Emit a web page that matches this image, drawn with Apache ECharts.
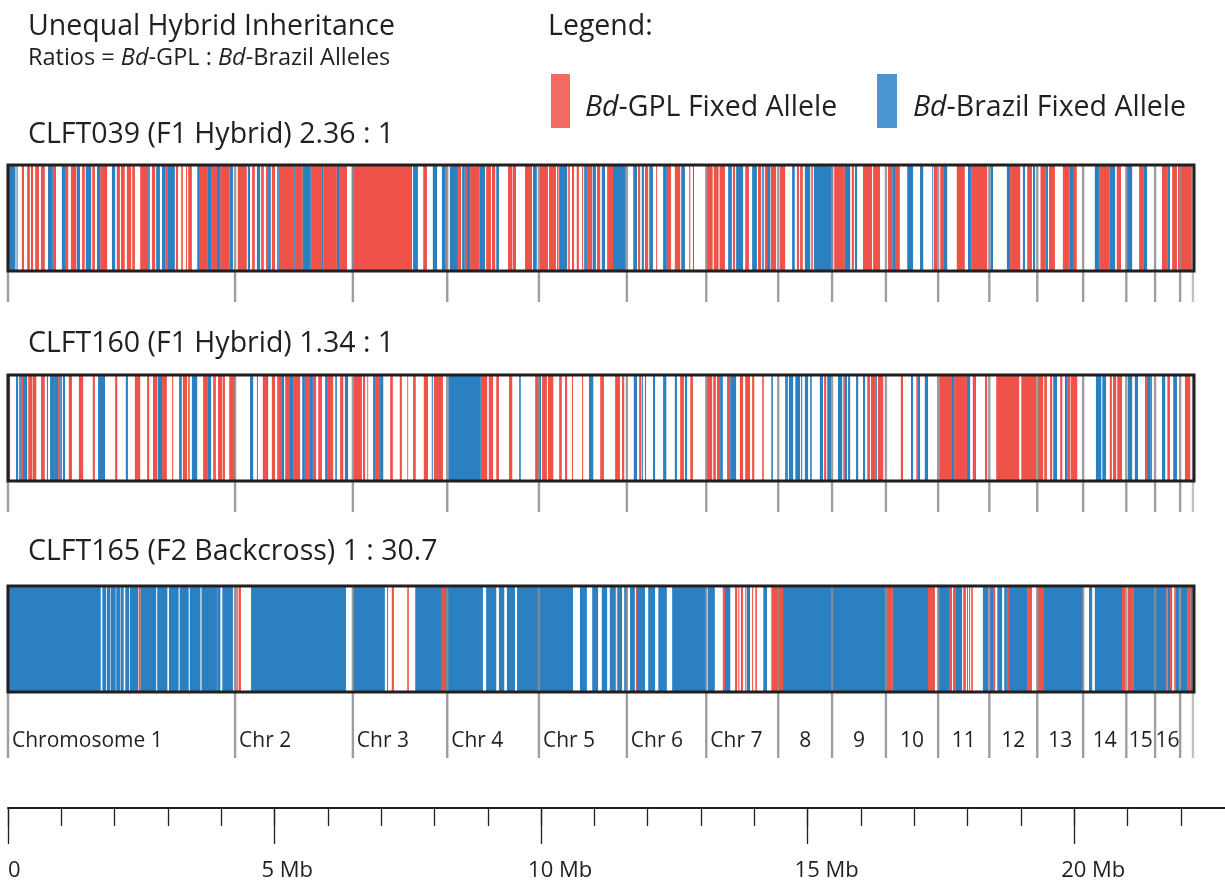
<!DOCTYPE html>
<html>
<head>
<meta charset="utf-8">
<script src="https://cdn.jsdelivr.net/npm/echarts@6/dist/echarts.min.js"></script>
<style>
  html, body { margin: 0; padding: 0; background: #fff; }
  #chart { width: 1225px; height: 886px; }
</style>
</head>
<body>
<div id="chart"></div>
<script>
// Genome length covered by each sample bar, and the reach of the scale bar (Mb)
const GENOME_MB = 22.25;
const SCALE_MB = 22.83;

// Chromosome start positions (Mb); last value is the assembly end
const chrStarts = [0, 4.26, 6.47, 8.24, 9.96, 11.61, 13.10, 14.45, 15.46, 16.47, 17.45, 18.41, 19.31, 20.17, 20.98, 21.52, 21.99, 22.23];
const chrLabels = ['Chromosome 1', 'Chr 2', 'Chr 3', 'Chr 4', 'Chr 5', 'Chr 6', 'Chr 7', '8', '9', '10', '11', '12', '13', '14', '15', '16', ''];

const sampleIds = ['CLFT039', 'CLFT160', 'CLFT165'];
const crossTypes = ['F1 Hybrid', 'F1 Hybrid', 'F2 Backcross'];
const alleleRatios = ['2.36 : 1', '1.34 : 1', '1 : 30.7'];

// scale bar ticks (Mb)
const scaleMajorTicks = [0, 5, 10, 15, 20];
const scaleMinorTicks = [0, 1, 2, 3, 4, 5, 6, 7, 8, 9, 10, 11, 12, 13, 14, 15, 16, 17, 18, 19, 20, 21, 22];

// Fixed-allele blocks, [start Mb, end Mb]
const gpl039 = [[0.26,0.30],[0.36,0.41],[0.43,0.47],[0.51,0.58],[0.62,0.69],[0.84,0.90],[1.07,1.13],[1.18,1.28],[1.39,1.44],[1.58,1.63],[1.73,1.86],[2.04,2.10],[2.12,2.19],[2.23,2.31],[2.33,2.38],[2.48,2.63],[2.70,2.76],[2.95,3.00],[3.15,3.19],[3.25,3.28],[3.34,3.36],[3.38,3.45],[3.60,3.75],[3.81,3.92],[3.98,4.16],[4.31,4.48],[4.58,4.63],[4.75,4.80],[4.84,4.88],[4.95,5.01],[5.08,5.35],[5.38,5.53],[5.68,5.89],[5.92,6.17],[6.21,6.36],[6.49,7.58],[7.79,7.86],[8.20,8.24],[8.44,8.50],[8.57,8.61],[8.67,8.85],[8.97,9.06],[9.08,9.14],[9.38,9.46],[9.47,9.53],[9.70,9.83],[9.98,10.13],[10.15,10.28],[10.30,10.33],[10.51,10.54],[10.58,10.62],[10.67,10.71],[10.77,10.79],[10.86,10.96],[11.05,11.11],[11.24,11.35],[11.82,11.86],[11.95,12.01],[12.16,12.18],[12.36,12.44],[12.51,12.61],[12.78,12.80],[13.11,13.22],[13.24,13.33],[13.35,13.45],[13.60,13.64],[13.83,13.90],[14.07,14.13],[14.20,14.24],[14.31,14.41],[14.48,14.58],[14.80,14.84],[14.86,14.91],[15.07,15.10],[15.50,15.70],[15.83,15.87],[16.04,16.21],[16.23,16.36],[16.51,16.59],[16.64,16.73],[17.37,17.43],[17.49,17.56],[17.80,17.95],[18.07,18.37],[18.80,18.99],[19.12,19.21],[19.37,19.46],[19.53,19.64],[19.79,19.92],[19.98,20.05],[20.48,20.67],[20.80,20.88],[21.22,21.31],[21.65,21.76],[21.84,21.93],[21.95,22.21]];
const brazil039 = [[0.01,0.14],[0.16,0.18],[0.75,0.84],[1.01,1.07],[1.29,1.35],[1.46,1.56],[1.67,1.73],[1.95,2.01],[2.63,2.66],[2.78,2.85],[2.89,2.95],[3.00,3.13],[3.55,3.60],[3.75,3.81],[3.92,3.98],[4.16,4.22],[4.50,4.54],[4.67,4.73],[4.88,4.93],[5.05,5.08],[5.35,5.38],[5.53,5.68],[5.89,5.92],[6.17,6.21],[6.45,6.49],[7.60,7.69],[7.97,8.05],[8.14,8.20],[8.29,8.44],[8.52,8.57],[8.61,8.67],[8.85,8.95],[9.16,9.21],[9.85,9.92],[10.34,10.49],[10.81,10.86],[10.97,11.03],[11.14,11.20],[11.35,11.59],[11.73,11.80],[11.89,11.93],[12.03,12.10],[12.29,12.36],[12.63,12.70],[12.85,12.87],[13.51,13.58],[13.66,13.79],[13.96,14.05],[14.15,14.18],[14.24,14.30],[14.71,14.76],[14.95,15.05],[15.12,15.48],[15.70,15.80],[15.89,15.93],[16.59,16.64],[16.87,16.98],[17.11,17.17],[17.34,17.35],[17.56,17.62],[18.01,18.07],[18.43,18.48],[18.74,18.80],[19.04,19.08],[19.23,19.27],[19.46,19.51],[19.92,19.98],[20.39,20.48],[20.67,20.77],[20.99,21.09],[21.31,21.37],[21.76,21.80]];

const gpl160 = [[0.00,0.04],[0.24,0.28],[0.38,0.45],[0.46,0.53],[0.62,0.69],[0.94,0.98],[1.14,1.20],[1.33,1.41],[1.59,1.63],[2.01,2.05],[2.38,2.48],[2.61,2.65],[2.72,2.80],[2.89,2.98],[3.08,3.10],[3.28,3.36],[3.38,3.41],[3.66,3.75],[3.85,3.90],[3.94,4.02],[4.03,4.07],[4.15,4.26],[4.67,4.69],[4.78,4.86],[4.95,5.01],[5.05,5.14],[5.20,5.29],[5.35,5.48],[5.57,5.65],[5.72,5.78],[5.82,5.89],[6.00,6.10],[6.23,6.29],[6.49,6.64],[6.66,6.70],[6.74,6.75],[6.90,6.98],[7.17,7.22],[7.35,7.39],[7.49,7.50],[7.60,7.65],[7.80,7.88],[7.99,8.16],[8.87,8.99],[9.02,9.10],[9.16,9.21],[9.40,9.46],[9.89,9.96],[10.02,10.11],[10.13,10.23],[10.34,10.39],[10.45,10.49],[10.58,10.60],[10.77,10.79],[11.11,11.18],[11.39,11.48],[11.52,11.56],[11.84,11.88],[12.61,12.68],[12.80,12.85],[13.11,13.21],[13.23,13.28],[13.30,13.36],[13.49,13.55],[13.73,13.79],[13.83,13.92],[13.96,14.00],[14.15,14.18],[15.31,15.35],[15.67,15.70],[16.12,16.17],[16.19,16.27],[16.32,16.42],[16.75,16.79],[17.04,17.07],[17.47,17.71],[17.75,17.99],[18.10,18.16],[18.33,18.37],[18.54,18.97],[19.01,19.29],[19.32,19.42],[19.44,19.49],[19.55,19.59],[19.74,19.78],[19.87,19.93],[19.94,20.06],[20.67,20.71],[20.73,20.79],[20.81,20.90],[21.33,21.37],[21.75,21.80],[22.08,22.18]];
const brazil160 = [[0.15,0.19],[0.21,0.24],[0.28,0.36],[0.73,0.75],[0.79,0.88],[0.88,0.94],[0.98,1.01],[1.03,1.07],[1.69,1.82],[2.21,2.25],[2.81,2.89],[3.21,3.26],[3.45,3.55],[3.75,3.81],[4.54,4.60],[4.86,4.88],[5.14,5.18],[5.29,5.35],[5.52,5.57],[5.65,5.72],[5.95,6.00],[6.14,6.17],[6.32,6.38],[6.85,6.90],[6.98,7.04],[7.95,7.97],[8.26,8.87],[9.59,9.62],[9.96,10.00],[10.90,10.98],[11.74,11.80],[11.89,11.91],[11.95,11.97],[12.10,12.14],[12.29,12.35],[12.51,12.55],[12.70,12.74],[13.36,13.41],[13.55,13.66],[14.32,14.35],[14.58,14.63],[14.65,14.73],[14.77,14.86],[14.88,14.90],[14.95,15.01],[15.05,15.08],[15.23,15.29],[15.37,15.44],[15.57,15.65],[15.70,15.74],[15.76,15.80],[15.91,15.95],[16.04,16.08],[16.27,16.30],[16.94,16.98],[17.07,17.11],[17.20,17.26],[17.71,17.75],[17.99,18.05],[19.61,19.68],[19.83,19.87],[20.41,20.51],[20.53,20.60],[21.01,21.09],[21.14,21.20],[21.37,21.43],[21.43,21.46],[21.65,21.71],[21.86,21.93]];

const gpl165 = [[2.45,2.49],[3.92,3.94],[4.26,4.29],[4.30,4.32],[4.33,4.37],[7.11,7.13],[7.20,7.24],[7.49,7.52],[8.14,8.20],[11.39,11.41],[11.78,11.80],[13.41,13.45],[13.64,13.68],[13.70,13.72],[13.75,13.79],[13.83,13.85],[13.96,13.98],[14.02,14.05],[14.32,14.54],[16.49,16.60],[17.26,17.39],[17.67,17.71],[17.73,17.77],[17.92,17.97],[17.99,18.01],[18.03,18.05],[18.07,18.10],[18.48,18.52],[18.74,18.78],[19.12,19.21],[19.31,19.42],[20.90,20.96],[21.01,21.11],[21.73,21.75],[21.80,21.84],[21.88,21.91],[22.12,22.19]];
const brazil165 = [[0.00,1.74],[1.77,1.84],[1.855,1.92],[1.93,2.02],[2.03,2.11],[2.12,2.17],[2.20,2.27],[2.285,2.44],[2.49,2.78],[2.80,2.99],[3.02,3.20],[3.22,3.39],[3.41,3.61],[3.63,3.92],[3.94,3.985],[4.02,4.22],[4.56,6.34],[6.47,7.07],[7.64,8.14],[8.20,8.91],[8.97,9.16],[9.21,9.31],[9.36,9.51],[9.55,10.60],[10.73,10.86],[10.96,11.07],[11.14,11.24],[11.29,11.39],[11.43,11.52],[11.56,11.61],[11.67,11.76],[11.80,11.95],[12.01,12.14],[12.20,12.36],[12.46,13.10],[13.13,13.26],[13.45,13.55],[13.86,13.92],[14.17,14.24],[14.54,16.49],[16.60,17.26],[17.45,17.67],[17.77,17.90],[18.29,18.39],[18.42,18.48],[18.56,18.65],[18.69,18.74],[18.78,19.12],[19.42,20.17],[20.28,20.34],[20.39,20.90],[21.11,21.73],[21.75,21.80],[21.91,21.97],[21.99,22.12],[22.19,22.23]];

const gplBySample = [gpl039, gpl160, gpl165];
const brazilBySample = [brazil039, brazil160, brazil165];

const FONT = "'Open Sans', 'Noto Sans', sans-serif";
const INK = '#231f20';
const GPL_RED = '#ef5249';
const BRAZIL_BLUE = '#2a80c1';
const GPL_RED_KEY = '#f26c65';
const BRAZIL_BLUE_KEY = '#4a96d0';
const CHR_GRAY = 'rgba(140,141,144,0.85)';

const barTops = [165, 375, 586];
const barHeight = 106;
const tickDrops = [31, 31, 66];

const chart = echarts.init(document.getElementById('chart'), null, { renderer: 'canvas' });

const grids = barTops.map(t => ({ left: 8, top: t, width: 1186, height: barHeight }));
grids.push({ left: 8, top: 807, right: 0, height: 1 });

const xAxes = barTops.map((t, i) => ({ type: 'value', gridIndex: i, min: 0, max: GENOME_MB, show: false }));
const yAxes = barTops.map((t, i) => ({ type: 'value', gridIndex: i, min: 0, max: 1, show: false }));

// scale bar: two axes sharing one grid, 1 Mb minor ticks and 5 Mb major ticks
xAxes.push({
  type: 'value', gridIndex: 3, min: 0, max: SCALE_MB, interval: 1, position: 'bottom',
  axisLine: { show: true, lineStyle: { color: INK, width: 2 } },
  axisTick: { show: true, length: 18, customValues: scaleMinorTicks, lineStyle: { color: INK, width: 1.3 } },
  axisLabel: { show: false }, splitLine: { show: false }
});
xAxes.push({
  type: 'value', gridIndex: 3, min: 0, max: SCALE_MB, interval: 5, position: 'bottom',
  axisLine: { show: false },
  axisTick: { show: true, length: 36, customValues: scaleMajorTicks, lineStyle: { color: INK, width: 1.3 } },
  axisLabel: { show: false }, splitLine: { show: false }
});
yAxes.push({ type: 'value', gridIndex: 3, min: 0, max: 1, show: false });

function blockSeries(i, blocks, color, name) {
  return {
    type: 'custom', name: name, xAxisIndex: i, yAxisIndex: i, silent: true, z: 2,
    data: blocks,
    renderItem: function (params, api) {
      const a = api.coord([api.value(0), 1]);
      const b = api.coord([api.value(1), 0]);
      return {
        type: 'rect',
        shape: { x: a[0], y: a[1], width: Math.max(b[0] - a[0], 0.9), height: b[1] - a[1] },
        style: { fill: color }
      };
    }
  };
}

function chromosomeSeries(i) {
  return {
    type: 'custom', xAxisIndex: i, yAxisIndex: i, silent: true, z: 3,
    data: chrStarts.map((s, k) => [s, k]),
    renderItem: function (params, api) {
      const k = api.value(1);
      const top = api.coord([api.value(0), 1]);
      const bot = api.coord([api.value(0), 0]);
      const last = k === chrStarts.length - 1;
      const children = [{
        type: 'line',
        shape: { x1: top[0], y1: top[1], x2: top[0], y2: bot[1] + tickDrops[i] },
        style: { stroke: last ? 'rgba(150,151,154,0.6)' : CHR_GRAY, lineWidth: 2.4 }
      }];
      if (i === 2 && !last && chrLabels[k]) {
        const next = api.coord([chrStarts[k + 1], 0]);
        const isChr = chrLabels[k].indexOf('Chr') === 0;
        children.push({
          type: 'text',
          style: {
            text: chrLabels[k],
            x: isChr ? top[0] + 4 : (top[0] + next[0]) / 2,
            y: bot[1] + 49,
            align: isChr ? 'left' : 'center',
            verticalAlign: 'middle',
            fill: INK, fontSize: 21, fontFamily: FONT
          }
        });
      }
      return { type: 'group', children: children };
    }
  };
}

function frameSeries(i) {
  return {
    type: 'custom', xAxisIndex: i, yAxisIndex: i, silent: true, z: 4,
    data: [[0, GENOME_MB]],
    renderItem: function (params, api) {
      const a = api.coord([api.value(0), 1]);
      const b = api.coord([api.value(1), 0]);
      return {
        type: 'rect',
        shape: { x: a[0], y: a[1], width: b[0] - a[0], height: b[1] - a[1] },
        style: { fill: null, stroke: INK, lineWidth: 3 }
      };
    }
  };
}

const scaleLabelSeries = {
  type: 'custom', xAxisIndex: 3, yAxisIndex: 3, silent: true,
  data: scaleMajorTicks.map(v => [v]),
  renderItem: function (params, api) {
    const v = api.value(0);
    const p = api.coord([v, 0]);
    return {
      type: 'text',
      style: {
        text: v === 0 ? '0' : v + ' Mb',
        x: Math.max(p[0] - 13, 8), y: p[1] + 63, align: 'left', verticalAlign: 'middle',
        fill: INK, fontSize: 22, fontFamily: FONT
      }
    };
  }
};

const series = [];
for (let i = 0; i < 3; i++) {
  series.push(blockSeries(i, gplBySample[i], GPL_RED, 'Bd-GPL Fixed Allele'));
  series.push(blockSeries(i, brazilBySample[i], BRAZIL_BLUE, 'Bd-Brazil Fixed Allele'));
  series.push(chromosomeSeries(i));
  series.push(frameSeries(i));
}
series.push(scaleLabelSeries);

function label(text, x, y, size) {
  const rich = { i: { fontStyle: 'italic', fontFamily: FONT, fontSize: size, fill: INK } };
  return {
    type: 'text', silent: true,
    style: { text: text, x: x, y: y, verticalAlign: 'middle', fill: INK, fontSize: size, fontFamily: FONT, rich: rich }
  };
}

const BIG = 28.5;
const sampleTitleY = [134.5, 344, 552];
const graphics = [
  label('Unequal Hybrid Inheritance', 28, 27, BIG),
  label('Ratios = {i|Bd}-GPL : {i|Bd}-Brazil Alleles', 28, 58, 23.5),
  label('Legend:', 548, 27, BIG),
  { type: 'rect', silent: true, shape: { x: 551, y: 74, width: 19, height: 54 }, style: { fill: GPL_RED_KEY } },
  label('{i|Bd}-GPL Fixed Allele', 585, 108, BIG),
  { type: 'rect', silent: true, shape: { x: 877, y: 74, width: 20, height: 54 }, style: { fill: BRAZIL_BLUE_KEY } },
  label('{i|Bd}-Brazil Fixed Allele', 913, 108, BIG)
];
for (let i = 0; i < 3; i++) {
  graphics.push(label(sampleIds[i] + ' (' + crossTypes[i] + ') ' + alleleRatios[i], 28, sampleTitleY[i], BIG));
}

chart.setOption({
  animation: false,
  backgroundColor: '#ffffff',
  grid: grids,
  xAxis: xAxes,
  yAxis: yAxes,
  series: series,
  graphic: graphics
});
</script>
</body>
</html>
